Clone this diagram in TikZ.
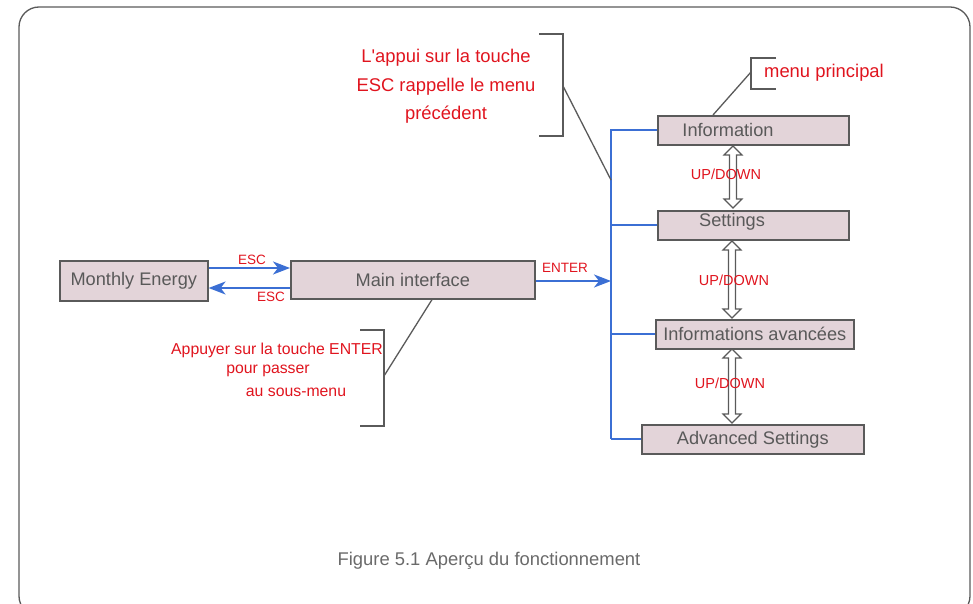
\documentclass[tikz,border=0pt]{standalone}
\usepackage{fontspec}
\setmainfont{Liberation Sans}[Ligatures=TeXOff]
\usetikzlibrary{arrows.meta}
\definecolor{boxfill}{HTML}{E3D4D9}
\definecolor{boxline}{HTML}{5A5A5A}
\definecolor{txtgrey}{HTML}{595959}
\definecolor{lblred}{HTML}{E0141E}
\definecolor{busblue}{HTML}{3B6FD4}
\definecolor{capgrey}{HTML}{6A6A6A}
\newcommand\hollowud[3]{%
  \draw[draw=boxline, fill=white, line width=1.2pt]
    (#1,#2) -- (#1+9,#2+9) -- (#1+3.5,#2+9) -- (#1+3.5,#3-9) -- (#1+9,#3-9) -- (#1,#3)
    -- (#1-9,#3-9) -- (#1-3.5,#3-9) -- (#1-3.5,#2+9) -- (#1-9,#2+9) -- cycle;}
\begin{document}
\begin{tikzpicture}[x=1pt,y=-1pt,
  menubox/.style={draw=boxline, line width=1.6pt, fill=boxfill, inner sep=0pt,
    text=txtgrey, font=\fontsize{18.2}{21}\selectfont, anchor=north west},
  keylbl/.style={text=lblred, font=\fontsize{13.5}{16}\selectfont, inner sep=0pt},
  udlbl/.style={text=lblred, font=\fontsize{14.5}{17}\selectfont, inner sep=0pt},
  note/.style={text=lblred, font=\fontsize{18.4}{21}\selectfont, inner sep=0pt},
  smallnote/.style={text=lblred, font=\fontsize{15.8}{19}\selectfont, inner sep=0pt},
  bus/.style={draw=busblue, line width=1.8pt},
  busarrow/.style={bus, -{Stealth[length=17pt,width=13pt,inset=5pt]}},
  callout/.style={draw=boxline, line width=1.3pt},
]
\useasboundingbox (0,0) rectangle (973,604);
\draw[boxline, line width=1.3pt, rounded corners=20pt] (19,7) rectangle (970,616);

% boxes
\node[menubox, minimum width=148pt, minimum height=40pt] (me) at (59,260) {Monthly Energy};
\node[menubox, minimum width=244pt, minimum height=38pt] (mi) at (290,260) {Main interface};
\node[menubox, minimum width=191pt, minimum height=29pt] (inf) at (657,115) {};
\node[menubox, minimum width=191pt, minimum height=29pt] (set) at (657,210) {};
\node[menubox, minimum width=198pt, minimum height=29pt] (iav) at (655,319) {Informations avancées};
\node[menubox, minimum width=222pt, minimum height=29pt] (adv) at (641,424) {Advanced Settings};
\node[text=txtgrey, font=\fontsize{18.2}{21}\selectfont, inner sep=0pt] (inft) at (728,129.5) {Information};
\node[text=txtgrey, font=\fontsize{18.2}{21}\selectfont, inner sep=0pt] (sett) at (732,222) {Settings};

% ESC arrows
\coordinate (escA) at (0,268);
\coordinate (escB) at (0,288);
\draw[busarrow] (me.east |- escA) -- (mi.west |- escA);
\draw[busarrow] (mi.west |- escB) -- (me.east |- escB);
\node[keylbl] (esc1) at (252,260) {ESC};
\node[keylbl] (esc2) at (271,297) {ESC};

% bus
\coordinate (bustop) at (611,129.5);
\coordinate (busbot) at (611,438.5);
\coordinate (busmid) at (611,281);
\draw[bus] (bustop) -- (busbot);
\draw[bus] (inf.west -| bustop) -- (inf.west);
\draw[bus] (set.west -| bustop) -- (set.west);
\draw[bus] (iav.west -| bustop) -- (iav.west);
\draw[bus] (adv.west -| bustop) -- (adv.west);
\draw[busarrow] (mi.east |- busmid) -- (busmid);
\node[keylbl] (enter) at (565,268) {ENTER};

% up/down arrows
\hollowud{733}{146}{208}
\hollowud{732}{241}{318}
\hollowud{732}{349}{423}
\node[udlbl] (ud1) at (726,174) {UP/DOWN};
\node[udlbl] (ud2) at (734,280) {UP/DOWN};
\node[udlbl] (ud3) at (730,383) {UP/DOWN};

% callout ESC
\draw[callout] (539,34) -- (563,34) -- (563,136) -- (539,136);
\coordinate (c1) at (563,86);
\coordinate (c1b) at (611,180);
\draw[callout] (c1) -- (c1b);
\node[note] (n1a) at (446,58) {L'appui sur la touche};
\node[note] (n1b) at (446,87) {ESC rappelle le menu};
\node[note] (n1c) at (446,115) {précédent};

% callout menu principal
\draw[callout] (776,58) -- (751,58) -- (751,89) -- (776,89);
\coordinate (c2) at (751,72);
\draw[callout] (c2) -- (inf.north -| 713,0);
\node[note] (n2) at (824,73) {menu principal};

% callout ENTER
\draw[callout] (360,330) -- (384,330) -- (384,426) -- (360,426);
\coordinate (c3) at (384,376);
\draw[callout] (c3) -- (mi.south -| 432,0);
\node[smallnote] (n3a) at (277,350) {Appuyer sur la touche ENTER};
\node[smallnote] (n3b) at (268,371) {pour passer};
\node[smallnote] (n3c) at (296,392) {au sous-menu};

% caption
\node[text=capgrey, font=\fontsize{18.4}{21}\selectfont, inner sep=0pt] (cap) at (489,561) {Figure 5.1 Aperçu du fonctionnement};
\end{tikzpicture}
\end{document}
